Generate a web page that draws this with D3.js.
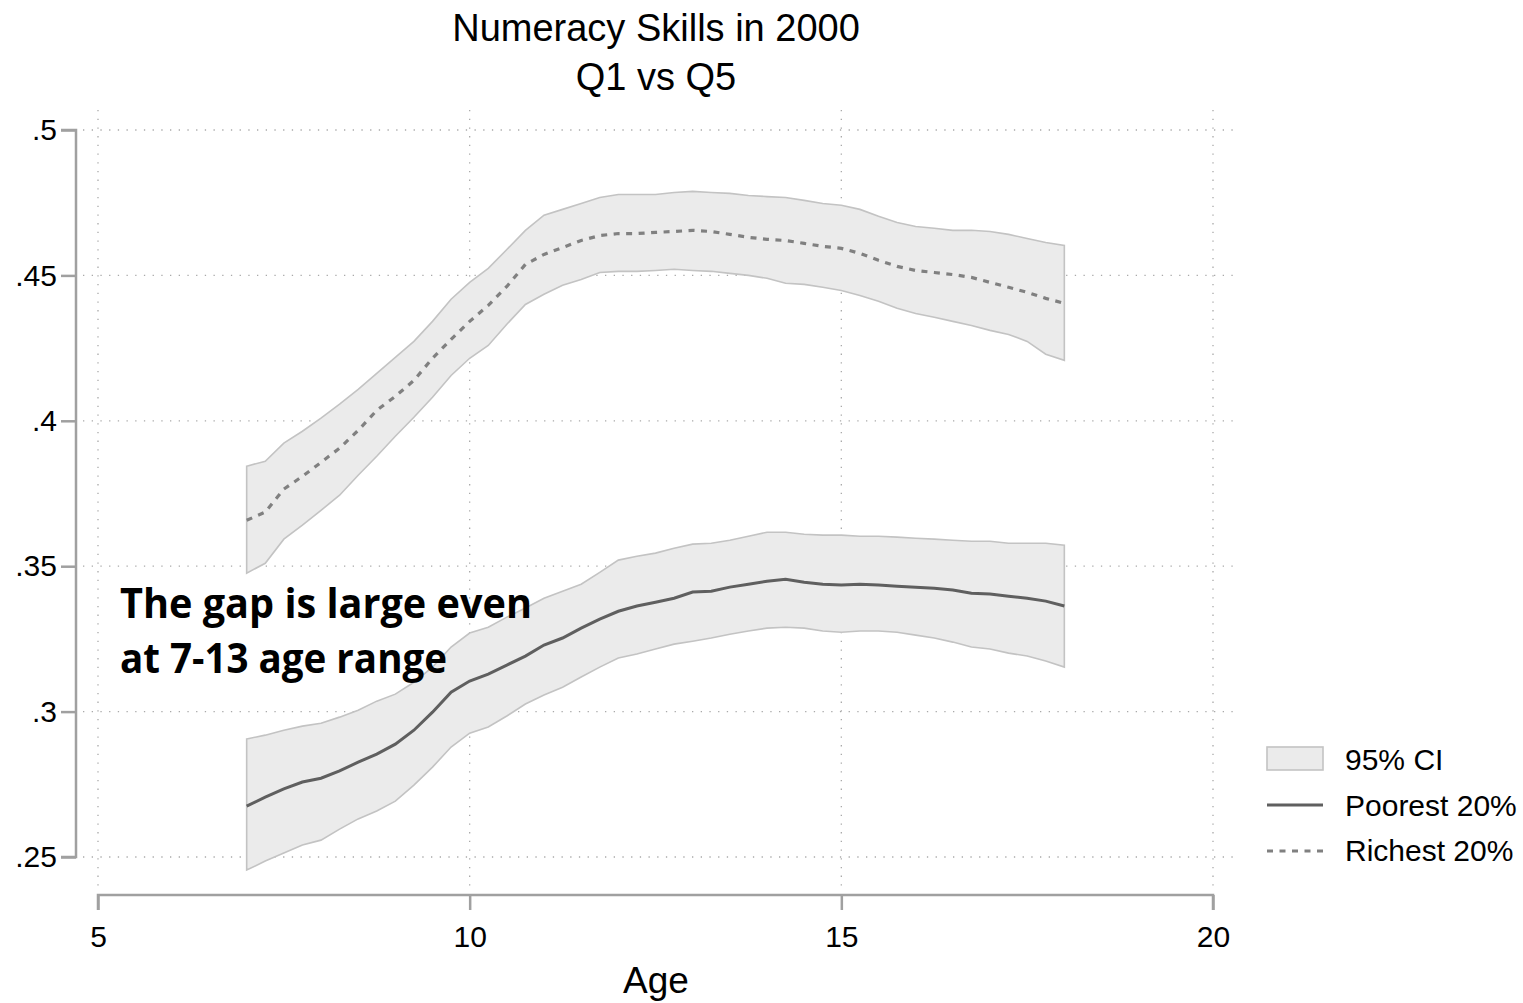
<!DOCTYPE html>
<html>
<head>
<meta charset="utf-8">
<script src="https://cdn.jsdelivr.net/npm/d3@7"></script>
<style>
  html, body { margin: 0; padding: 0; background: #fff; }
  svg { display: block; }
</style>
</head>
<body>
<svg id="chart" width="1523" height="1003"></svg>
<script>
// Age grid (years)
const ages = [7, 7.25, 7.5, 7.75, 8, 8.25, 8.5, 8.75, 9, 9.25, 9.5, 9.75, 10, 10.25, 10.5, 10.75,
  11, 11.25, 11.5, 11.75, 12, 12.25, 12.5, 12.75, 13, 13.25, 13.5, 13.75, 14, 14.25, 14.5, 14.75,
  15, 15.25, 15.5, 15.75, 16, 16.25, 16.5, 16.75, 17, 17.25, 17.5, 17.75, 18];

// Richest 20%: mean and 95% CI bounds
const richMean = [.3658, .3686, .3765, .3809, .3857, .3906, .3967, .4036, .4084, .4139, .4215, .4280, .4342, .4397, .4462, .4538,
  .4572, .4596, .4620, .4637, .4644, .4644, .4648, .4651, .4655, .4651, .4641, .4631, .4624, .4620, .4610, .4600,
  .4593, .4576, .4552, .4531, .4517, .4510, .4503, .4493, .4476, .4459, .4442, .4421, .4404];
const richHi = [.3844, .3861, .3923, .3964, .4009, .4057, .4108, .4163, .4218, .4273, .4342, .4418, .4476, .4524, .4589, .4655,
  .4707, .4727, .4747, .4768, .4778, .4778, .4778, .4785, .4789, .4785, .4782, .4775, .4771, .4768, .4758, .4747,
  .4741, .4727, .4703, .4682, .4668, .4662, .4655, .4655, .4651, .4641, .4627, .4613, .4603];
const richLo = [.3476, .3510, .3593, .3641, .3692, .3744, .3813, .3878, .3947, .4012, .4081, .4156, .4215, .4259, .4332, .4400,
  .4435, .4466, .4486, .4510, .4514, .4514, .4517, .4521, .4517, .4514, .4507, .4500, .4490, .4473, .4469, .4459,
  .4448, .4431, .4411, .4387, .4369, .4356, .4342, .4328, .4311, .4297, .4273, .4229, .4208];

// Poorest 20%: mean and 95% CI bounds
const poorMean = [.2675, .2706, .2734, .2758, .2771, .2796, .2826, .2854, .2888, .2936, .2998, .3067, .3105, .3129, .3160, .3191,
  .3229, .3253, .3287, .3318, .3345, .3363, .3376, .3390, .3411, .3414, .3428, .3438, .3448, .3455, .3445, .3438,
  .3435, .3438, .3435, .3431, .3428, .3424, .3418, .3407, .3404, .3397, .3390, .3380, .3363];
const poorHi = [.2906, .2919, .2936, .2950, .2960, .2981, .3005, .3036, .3060, .3101, .3153, .3222, .3270, .3290, .3325, .3356,
  .3390, .3414, .3438, .3479, .3521, .3534, .3545, .3562, .3576, .3579, .3589, .3603, .3617, .3617, .3610, .3607,
  .3607, .3603, .3603, .3600, .3596, .3593, .3589, .3586, .3586, .3579, .3579, .3579, .3572];
const poorLo = [.2455, .2486, .2514, .2541, .2558, .2596, .2631, .2658, .2692, .2747, .2809, .2878, .2926, .2947, .2985, .3026,
  .3057, .3084, .3119, .3153, .3184, .3198, .3215, .3232, .3242, .3253, .3266, .3277, .3287, .3290, .3287, .3277,
  .3273, .3277, .3277, .3273, .3263, .3253, .3239, .3222, .3215, .3201, .3191, .3174, .3153];

const xTicks = [5, 10, 15, 20];
const yTicks = [.25, .3, .35, .4, .45, .5];
const yTickLabels = [".25", ".3", ".35", ".4", ".45", ".5"];
const titleLines = ["Numeracy Skills in 2000", "Q1 vs Q5"];
const noteLines = ["The gap is large even", "at 7-13 age range"];
const legendLabels = ["95% CI", "Poorest 20%", "Richest 20%"];

const svg = d3.select("#chart");
const FONT = "'Liberation Sans', Arial, sans-serif";

const x = d3.scaleLinear().domain([5, 20]).range([98, 1213]);
const y = d3.scaleLinear().domain([.25, .5]).range([857, 130]);

const axisColor = "#a0a0a0";
const gridColor = "#a9a9a9";

// Dotted grid
const grid = svg.append("g");
grid.selectAll("line.h").data(yTicks).join("line")
  .attr("x1", 83).attr("x2", 1238)
  .attr("y1", d => y(d)).attr("y2", d => y(d))
  .attr("stroke", gridColor).attr("stroke-width", 1.3)
  .attr("stroke-dasharray", "1.3,7.4");
grid.selectAll("line.v").data(xTicks).join("line")
  .attr("y1", 110).attr("y2", 889)
  .attr("x1", d => x(d)).attr("x2", d => x(d))
  .attr("stroke", gridColor).attr("stroke-width", 1.3)
  .attr("stroke-dasharray", "1.3,7.4");

// Axes
const yAxis = d3.axisLeft(y).tickValues(yTicks)
  .tickFormat((d, i) => yTickLabels[i]).tickSize(15).tickPadding(4);
const gy = svg.append("g").attr("transform", "translate(76,0)").call(yAxis);
const xAxis = d3.axisBottom(x).tickValues(xTicks).tickSize(15).tickPadding(15.5);
const gx = svg.append("g").attr("transform", "translate(0,895)").call(xAxis);
[gx, gy].forEach(g => {
  g.select(".domain").attr("stroke", axisColor).attr("stroke-width", 2.5);
  g.selectAll(".tick line").attr("stroke", axisColor).attr("stroke-width", 2.5);
  g.selectAll(".tick text").attr("fill", "#000").style("font-family", FONT).style("font-size", "30px");
});
gy.select(".domain").attr("d", `M-15,${y(.5)}H0V${y(.25)}H-15`);
gx.select(".domain").attr("d", `M${x(5)},15V0H${x(20)}V15`);

// Confidence bands
const area = (lo, hi) => d3.area()
  .x((d, i) => x(ages[i])).y0((d, i) => y(lo[i])).y1((d, i) => y(hi[i]))(ages);
const bandStyle = sel => sel.attr("fill", "#ebebeb").attr("stroke", "#c3c3c3").attr("stroke-width", 1.6);
svg.append("path").attr("d", area(richLo, richHi)).call(bandStyle);
svg.append("path").attr("d", area(poorLo, poorHi)).call(bandStyle);

// Mean lines
const line = vals => d3.line().x((d, i) => x(ages[i])).y((d, i) => y(vals[i]))(ages);
svg.append("path").attr("d", line(poorMean))
  .attr("fill", "none").attr("stroke", "#5f5f5f").attr("stroke-width", 3);
svg.append("path").attr("d", line(richMean))
  .attr("fill", "none").attr("stroke", "#808080").attr("stroke-width", 3.2)
  .attr("stroke-dasharray", "6,6.5");

// Title
svg.append("g").selectAll("text").data(titleLines).join("text")
  .attr("x", 656).attr("y", (d, i) => 41 + i * 49)
  .attr("text-anchor", "middle").style("font-family", FONT).style("font-size", "38px")
  .attr("fill", "#000").text(d => d);

// X axis title
svg.append("text").attr("x", 656).attr("y", 993).attr("text-anchor", "middle")
  .style("font-family", FONT).style("font-size", "37px").attr("fill", "#000").text("Age");

// Annotation
const noteWidths = [412, 327];
svg.append("g").selectAll("text").data(noteLines).join("text")
  .attr("x", 120).attr("y", (d, i) => 618 + i * 55)
  .attr("textLength", (d, i) => noteWidths[i]).attr("lengthAdjust", "spacingAndGlyphs")
  .style("font-family", "'Open Sans', sans-serif").style("font-weight", "bold")
  .style("font-size", "42px").attr("fill", "#000").text(d => d);

// Legend
const lg = svg.append("g");
lg.append("rect").attr("x", 1267).attr("y", 747).attr("width", 56).attr("height", 23).call(bandStyle);
lg.append("line").attr("x1", 1267).attr("x2", 1323).attr("y1", 805).attr("y2", 805)
  .attr("stroke", "#5f5f5f").attr("stroke-width", 3);
lg.append("line").attr("x1", 1267).attr("x2", 1323).attr("y1", 851).attr("y2", 851)
  .attr("stroke", "#808080").attr("stroke-width", 3.2).attr("stroke-dasharray", "6,6.5");
lg.selectAll("text").data(legendLabels).join("text")
  .attr("x", 1345).attr("y", (d, i) => 770 + i * 45.5)
  .style("font-family", FONT).style("font-size", "30px").attr("fill", "#000").text(d => d);
</script>
</body>
</html>
